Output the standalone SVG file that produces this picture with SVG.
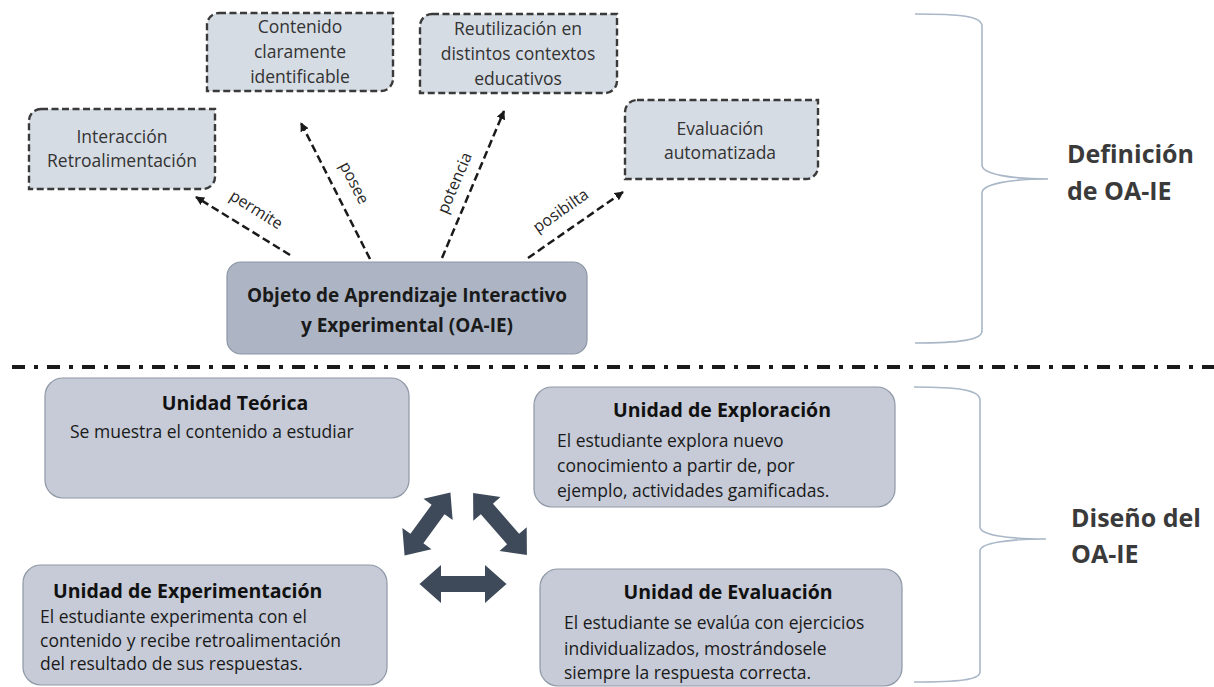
<svg xmlns="http://www.w3.org/2000/svg" width="1214" height="687" viewBox="0 0 1214 687">
<style>
  text { font-family: "Open Sans", "Liberation Sans", sans-serif; }
  .dbox { fill: #d6dce4; stroke: #3a3a3a; stroke-width: 2.4; stroke-dasharray: 7 3.5; }
  .dtxt { font-size: 17.5px; fill: #333; text-anchor: middle; }
  .main { fill: #adb5c4; stroke: #8d96a6; stroke-width: 1.2; }
  .mtxt { font-size: 19px; font-weight: bold; fill: #1a1a1a; text-anchor: middle; }
  .unit { fill: #c6cbd7; stroke: #8f98a6; stroke-width: 1.2; }
  .utitle { font-size: 19.5px; font-weight: bold; fill: #111; }
  .ubody { font-size: 17.5px; fill: #1a1a1a; }
  .conn { fill: none; stroke: #1a1a1a; stroke-width: 2.5; stroke-dasharray: 8 4; }
  .lbl { font-size: 16px; fill: #262626; text-anchor: middle; }
  .brace { fill: none; stroke: #a9b7c7; stroke-width: 1.6; }
  .side { font-size: 25px; font-weight: bold; fill: #3a3a3a; }
  .big { fill: #3e4a59; }
</style>
<defs>
  <marker id="ah" viewBox="0 0 10 10" refX="9" refY="5" markerWidth="9" markerHeight="9" markerUnits="userSpaceOnUse" orient="auto">
    <path d="M0,0 L10,5 L0,10 Z" fill="#1a1a1a"/>
  </marker>
</defs>

<g id="node-interaccion">
  <path class="dbox" d="M41,109 H215 V177 A12,12 0 0 1 203,189 H29 V121 A12,12 0 0 1 41,109 Z"/>
  <text class="dtxt" x="122" y="143">Interacción</text>
  <text class="dtxt" x="122" y="167">Retroalimentación</text>
</g>
<g id="node-contenido">
  <path class="dbox" d="M219,13 H393 V79 A12,12 0 0 1 381,91 H207 V25 A12,12 0 0 1 219,13 Z"/>
  <text class="dtxt" x="300" y="33">Contenido</text>
  <text class="dtxt" x="300" y="58">claramente</text>
  <text class="dtxt" x="300" y="83">identificable</text>
</g>
<g id="node-reutilizacion">
  <path class="dbox" d="M432,14 H617 V81 A12,12 0 0 1 605,93 H420 V26 A12,12 0 0 1 432,14 Z"/>
  <text class="dtxt" x="518" y="35">Reutilización en</text>
  <text class="dtxt" x="518" y="60">distintos contextos</text>
  <text class="dtxt" x="518" y="85">educativos</text>
</g>
<g id="node-evaluacion-auto">
  <path class="dbox" d="M637,100 H818 V167 A12,12 0 0 1 806,179 H625 V112 A12,12 0 0 1 637,100 Z"/>
  <text class="dtxt" x="720" y="135">Evaluación</text>
  <text class="dtxt" x="720" y="159">automatizada</text>
</g>
<g id="node-oaie">
  <rect class="main" x="227" y="262" width="360" height="92" rx="14"/>
  <text class="mtxt" x="407" y="302">Objeto de Aprendizaje Interactivo</text>
  <text class="mtxt" x="407" y="332">y Experimental (OA-IE)</text>
</g>

<g id="connectors">
  <line class="conn" x1="290" y1="255" x2="196" y2="197" marker-end="url(#ah)"/>
  <line class="conn" x1="370" y1="259" x2="301" y2="123" marker-end="url(#ah)"/>
  <line class="conn" x1="442" y1="258" x2="504" y2="111" marker-end="url(#ah)"/>
  <line class="conn" x1="528" y1="258" x2="623" y2="192" marker-end="url(#ah)"/>
  <text class="lbl" transform="translate(256,210) rotate(32)" y="5">permite</text>
  <text class="lbl" transform="translate(354,183) rotate(63)" y="5">posee</text>
  <text class="lbl" transform="translate(455,183) rotate(-67)" y="5">potencia</text>
  <text class="lbl" transform="translate(561,211) rotate(-35)" y="5">posibilta</text>
  <polygon class="big" transform="translate(463,584)" points="-43.5,0 -22,-19 -22,-8 22,-8 22,-19 43.5,0 22,19 22,8 -22,8 -22,19"/>
  <polygon class="big" transform="translate(427.5,524) rotate(-54)" points="-39,0 -18,-18 -18,-8 18,-8 18,-18 39,0 18,18 18,8 -18,8 -18,18"/>
  <polygon class="big" transform="translate(500,524) rotate(49)" points="-41,0 -20,-18 -20,-8 20,-8 20,-18 41,0 20,18 20,8 -20,8 -20,18"/>
</g>

<g id="divider">
  <line x1="12" y1="367" x2="1214" y2="367" stroke="#1a1a1a" stroke-width="4" stroke-dasharray="13 9 4 9"/>
</g>

<g id="brace-definicion">
  <path class="brace" d="M915,14 C960,14 982,16 982,26 V165 C982,174 1010,179 1048,179 C1010,179 982,184 982,193 V331 C982,340 960,343 915,343"/>
  <text class="side" x="1067" y="163">Definición</text>
  <text class="side" x="1067" y="200">de OA-IE</text>
</g>
<g id="brace-diseno">
  <path class="brace" d="M914,387 C958,387 980,390 980,400 V527 C980,535 1008,539 1046,539 C1008,539 980,543 980,551 V672 C980,680 958,682 914,682"/>
  <text class="side" x="1071" y="527">Diseño del</text>
  <text class="side" x="1071" y="563">OA-IE</text>
</g>

<g id="node-teorica">
  <rect class="unit" x="45" y="378" width="364" height="120" rx="18"/>
  <text class="utitle" x="235" y="410" text-anchor="middle">Unidad Teórica</text>
  <text class="ubody" x="70" y="438">Se muestra el contenido a estudiar</text>
</g>
<g id="node-exploracion">
  <rect class="unit" x="534" y="387" width="361" height="120" rx="18"/>
  <text class="utitle" x="722" y="417" text-anchor="middle">Unidad de Exploración</text>
  <text class="ubody" x="557" y="447">El estudiante explora nuevo</text>
  <text class="ubody" x="557" y="472">conocimiento a partir de, por</text>
  <text class="ubody" x="557" y="497">ejemplo, actividades gamificadas.</text>
</g>
<g id="node-experimentacion">
  <rect class="unit" x="23" y="565" width="364" height="120" rx="18"/>
  <text class="utitle" x="53" y="598">Unidad de Experimentación</text>
  <text class="ubody" x="40" y="623">El estudiante experimenta con el</text>
  <text class="ubody" x="40" y="647">contenido y recibe retroalimentación</text>
  <text class="ubody" x="40" y="670">del resultado de sus respuestas.</text>
</g>
<g id="node-evaluacion">
  <rect class="unit" x="540" y="569" width="362" height="117" rx="18"/>
  <text class="utitle" x="728" y="599" text-anchor="middle">Unidad de Evaluación</text>
  <text class="ubody" x="564" y="629">El estudiante se evalúa con ejercicios</text>
  <text class="ubody" x="564" y="655">individualizados, mostrándosele</text>
  <text class="ubody" x="564" y="679">siempre la respuesta correcta.</text>
</g>
</svg>
